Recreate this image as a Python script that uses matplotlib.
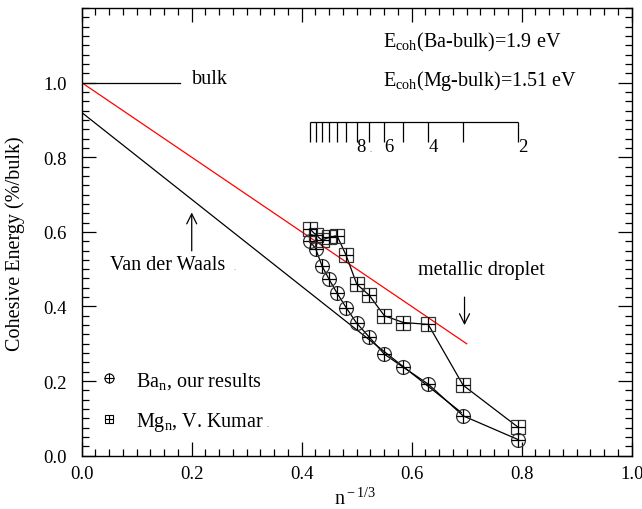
import numpy as np
import matplotlib
matplotlib.use("Agg")
import matplotlib.pyplot as plt
from matplotlib.ticker import MultipleLocator

plt.rcParams['font.family'] = ['Liberation Serif', 'DejaVu Serif']
plt.rcParams['mathtext.fontset'] = 'custom'
plt.rcParams['mathtext.rm'] = 'Liberation Serif'
plt.rcParams['mathtext.it'] = 'Liberation Serif:italic'

# ---- data ----
n_sizes = [2, 3, 4, 5, 6, 7, 8, 9, 10, 11, 12, 13, 14]
ba_energy = [0.043, 0.107, 0.192, 0.237, 0.272, 0.318, 0.355, 0.397, 0.436, 0.473, 0.509, 0.555, 0.575]
mg_energy = [0.076, 0.189, 0.352, 0.357, 0.375, 0.430, 0.460, 0.537, 0.590, 0.585, 0.578, 0.592, 0.608]
droplet_line_x = [0.0, 0.70]
droplet_line_y = [1.0, 0.30]
vdw_line_x = [0.0, 0.69]
vdw_line_y = [0.92, 0.116]
bulk_line_x = [0.0, 0.178]
bulk_line_y = [1.0, 1.0]
ruler_labels = {8: "8", 6: "6", 4: "4", 2: "2"}
x_ticks = [0.0, 0.2, 0.4, 0.6, 0.8, 1.0]
y_ticks = [0.0, 0.2, 0.4, 0.6, 0.8, 1.0]

x_vals = np.array(n_sizes, dtype=float) ** (-1.0 / 3.0)

fig = plt.figure(figsize=(6.42, 5.10), dpi=100)
ax = fig.add_axes([0.1273, 0.1045, 0.8567, 0.8778])

ax.set_xlim(0, 1.0)
ax.set_ylim(0, 1.2)

lw = 0.9
ax.plot(droplet_line_x, droplet_line_y, color='#ff0000', lw=lw)
ax.plot(vdw_line_x, vdw_line_y, color='black', lw=lw)
ax.plot(bulk_line_x, bulk_line_y, color='black', lw=lw)

ms = 10
# Ba circles with plus
ax.plot(x_vals, ba_energy, color='black', lw=lw, marker='o', ms=ms,
        mfc='none', mec='#333333', mew=0.9)
ax.plot(x_vals, ba_energy, ls='none', marker='+', ms=ms, mec='black', mew=0.9)
# Mg squares with plus
ax.plot(x_vals, mg_energy, color='black', lw=lw, marker='s', ms=ms,
        mfc='none', mec='#333333', mew=0.9)
ax.plot(x_vals, mg_energy, ls='none', marker='+', ms=ms, mec='black', mew=0.9)

# ruler of cluster sizes
ax.hlines(0.894, x_vals.min(), x_vals.max(), color='black', lw=lw)
ax.vlines(x_vals, 0.841, 0.894, color='black', lw=lw)
for n, lab in ruler_labels.items():
    ax.text(n ** (-1.0 / 3.0), 0.817, lab, ha='left', va='baseline', fontsize=13.5)
ax.text(0.524, 0.817, ".", ha='left', va='baseline', fontsize=6, color='#555555')

fs = 14.5
ax.text(0.2, 1.0, "bulk", ha='left', va='baseline', fontsize=fs)
ax.text(0.547, 1.096, r"E$_{\rm coh}$(Ba-bulk)=1.9 eV", ha='left', va='baseline', fontsize=fs)
ax.text(0.547, 0.995, r"E$_{\rm coh}$(Mg-bulk)=1.51 eV", ha='left', va='baseline', fontsize=fs)
ax.text(0.051, 0.50, "Van der Waals", ha='left', va='baseline', fontsize=fs)
ax.text(0.276, 0.50, ".", ha='left', va='baseline', fontsize=6, color='#888888')
ax.text(0.611, 0.486, "metallic droplet", ha='left', va='baseline', fontsize=fs)

ax.annotate('', xy=(0.2, 0.652), xytext=(0.2, 0.549),
            arrowprops=dict(arrowstyle='->', color='black', lw=lw,
                            mutation_scale=18, shrinkA=0, shrinkB=0))
ax.annotate('', xy=(0.696, 0.35), xytext=(0.696, 0.425),
            arrowprops=dict(arrowstyle='->', color='black', lw=lw,
                            mutation_scale=18, shrinkA=0, shrinkB=0))

# legend (drawn manually)
ax.plot([0.05], [0.208], marker='o', ms=6.5, mfc='none', mec='black', mew=0.8)
ax.plot([0.05], [0.208], marker='+', ms=6.5, mec='black', mew=0.8)
ax.text(0.099, 0.189, r"Ba$_{\rm n}$, our results", ha='left', va='baseline', fontsize=fs)
ax.plot([0.05], [0.098], marker='s', ms=6, mfc='none', mec='black', mew=0.8)
ax.plot([0.05], [0.098], marker='+', ms=6, mec='black', mew=0.8)
ax.text(0.099, 0.080, r"Mg$_{\rm n}$, V. Kumar", ha='left', va='baseline', fontsize=fs)
ax.text(0.336, 0.080, ".", ha='left', va='baseline', fontsize=6, color='#ff0000')

ax.set_xticks(x_ticks)
ax.set_yticks(y_ticks)
ax.set_xticklabels([f"{v:.1f}" for v in x_ticks])
ax.set_yticklabels([f"{v:.1f}" for v in y_ticks])
ax.xaxis.set_minor_locator(MultipleLocator(0.025))
ax.yaxis.set_minor_locator(MultipleLocator(0.025))
ax.tick_params(which='both', direction='in', top=True, right=True, width=0.9)
ax.tick_params(which='major', length=10)
ax.tick_params(which='minor', length=5)
ax.tick_params(axis='x', which='major', labelsize=13.5, pad=7)
ax.tick_params(axis='y', which='major', labelsize=13.5, pad=11)
for s in ax.spines.values():
    s.set_linewidth(1.0)

ax.set_ylabel("Cohesive Energy (%/bulk)", fontsize=14.5)
ax.yaxis.set_label_coords(-0.104, 0.475)
ax.set_xlabel(r"n$^{\rm -1/3}$", fontsize=14.5)
ax.xaxis.set_label_coords(0.497, -0.071)

fig.savefig("out.png", dpi=100)
